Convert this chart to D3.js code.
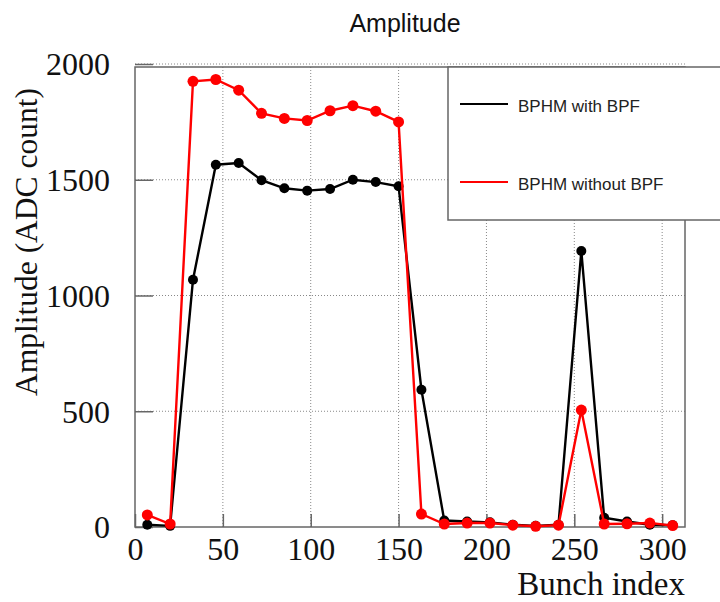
<!DOCTYPE html>
<html><head><meta charset="utf-8">
<script src="https://cdn.jsdelivr.net/npm/d3@7"></script>
<style>body{margin:0;background:#fff;}svg{display:block;}</style>
</head><body>
<svg id="c" width="720" height="602"></svg>
<script>
const bunchIndex = [7,20,33,46,59,72,85,98,111,124,137,150,163,176,189,202,215,228,241,254,267,280,293,306];
const withBPF    = [10,5,1068,1565,1572,1498,1463,1453,1460,1500,1490,1472,593,28,24,20,10,5,10,1192,40,24,10,8];
const withoutBPF = [52,13,1925,1933,1887,1787,1765,1756,1798,1820,1796,1750,56,13,17,17,8,3,8,505,13,14,17,6];
const xTicks = [0,50,100,150,200,250,300];
const yTicks = [0,500,1000,1500,2000];
const seriesNames = ["BPHM with BPF","BPHM without BPF"];
const seriesColors = ["#000000","#ff0000"];

const svg = d3.select("#c");
const L=135,R=685,T=67,B=527;
const x = d3.scaleLinear().domain([0,313]).range([L,R]);
const y = d3.scaleLinear().domain([0,2000]).range([B,64]);

// grid
const g = svg.append("g");
g.selectAll(".gx").data(xTicks.filter(d=>d>0)).enter().append("line")
 .attr("x1",d=>x(d)).attr("x2",d=>x(d)).attr("y1",T).attr("y2",B)
 .attr("stroke","#888").attr("stroke-width",1).attr("stroke-dasharray","1,2");
g.selectAll(".gy").data(yTicks.filter(d=>d>0)).enter().append("line")
 .attr("x1",L).attr("x2",R).attr("y1",d=>y(d)).attr("y2",d=>y(d))
 .attr("stroke","#888").attr("stroke-width",1).attr("stroke-dasharray","1,2");

// axes using d3 axes (ticks inward)
const fmt = d3.format("d");
const xAxis = d3.axisBottom(x).tickValues(xTicks).tickFormat(fmt).tickSizeInner(-13).tickSizeOuter(0).tickPadding(0);
const yAxis = d3.axisLeft(y).tickValues(yTicks).tickFormat(fmt).tickSizeInner(-18).tickSizeOuter(0).tickPadding(25);
const gx = svg.append("g").attr("transform",`translate(0,${B})`).call(xAxis);
const gy = svg.append("g").attr("transform",`translate(${L},0)`).call(yAxis);
[gx,gy].forEach(a=>{
  a.select(".domain").remove();
  a.selectAll(".tick line").attr("stroke","#666").attr("stroke-width",1.5);
  a.selectAll("text").attr("font-family","'Liberation Serif', serif").attr("font-size",32).attr("fill","#111");
});
gx.selectAll("text").attr("y",33).attr("dy","0");
gy.selectAll("text").attr("dy","0.34em");

// frame
svg.append("rect").attr("x",L).attr("y",T).attr("width",R-L).attr("height",B-T)
 .attr("fill","none").attr("stroke","#666").attr("stroke-width",1.5);

// series
const series = [withBPF, withoutBPF];
const line = d3.line().x((d,i)=>x(bunchIndex[i])).y(d=>y(d));
series.forEach((s,k)=>{
  svg.append("path").datum(s).attr("d",line).attr("fill","none")
   .attr("stroke",seriesColors[k]).attr("stroke-width",2.4);
  svg.append("g").selectAll("circle").data(s).enter().append("circle")
   .attr("cx",(d,i)=>x(bunchIndex[i])).attr("cy",d=>y(d)).attr("r",k==0?5:5.5)
   .attr("fill",seriesColors[k]);
});

// legend
svg.append("rect").attr("x",448).attr("y",67).attr("width",300).attr("height",153)
 .attr("fill","#fff").attr("stroke","#666").attr("stroke-width",1.5);
seriesNames.forEach((n,k)=>{
  const ly = k==0?104:182;
  svg.append("line").attr("x1",460).attr("x2",508).attr("y1",ly).attr("y2",ly)
   .attr("stroke",seriesColors[k]).attr("stroke-width",2);
  svg.append("text").attr("x",518).attr("y",ly+8).text(n)
   .attr("font-family","'Liberation Sans', Arial, sans-serif").attr("font-size",17).attr("fill","#222");
});

// titles
svg.append("text").attr("x",405).attr("y",32).attr("text-anchor","middle").text("Amplitude")
 .attr("font-family","'Liberation Sans', Arial, sans-serif").attr("font-size",25).attr("fill","#111");
svg.append("text").attr("transform","translate(37,242) rotate(-90)").attr("text-anchor","middle")
 .text("Amplitude (ADC count)").attr("font-family","'Liberation Serif', serif").attr("font-size",31.5).attr("fill","#111");
svg.append("text").attr("x",685).attr("y",595).attr("text-anchor","end").text("Bunch index")
 .attr("font-family","'Liberation Serif', serif").attr("font-size",33).attr("fill","#111");
</script>
</body></html>
